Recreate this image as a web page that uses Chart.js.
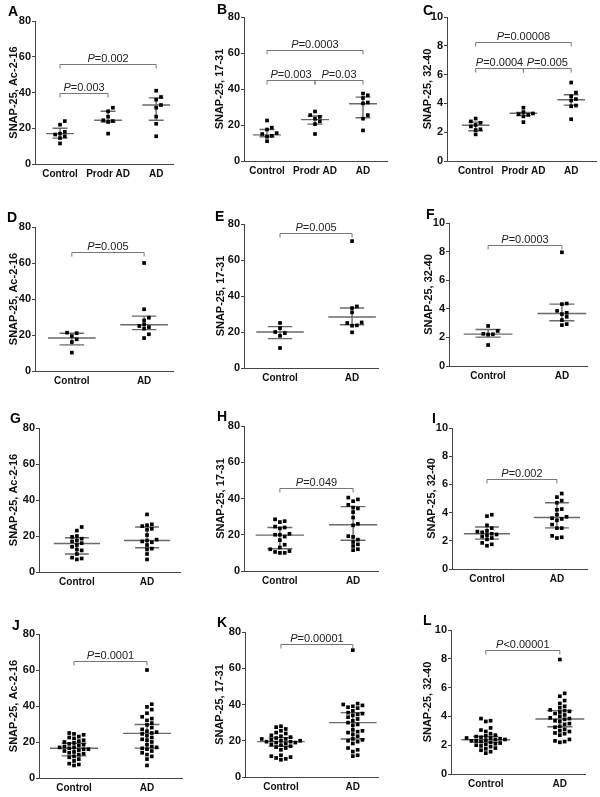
<!DOCTYPE html>
<html>
<head>
<meta charset="utf-8">
<script src="https://cdn.jsdelivr.net/npm/chart.js"></script>
<style>
  body { margin: 0; background: #fff; width: 600px; height: 797px; position: relative; overflow: hidden; }
  canvas { position: absolute; }
</style>
</head>
<body>
<script>
// ---- data ----
const groups3 = ["Control", "Prodr AD", "AD"];
const groups2 = ["Control", "AD"];
const ticksWide = [0, 20, 40, 60, 80];
const ticksNarrow = [0, 2, 4, 6, 8, 10];

// A: SNAP-25, Ac-2-16 (three groups)
const aControl = [24, 22, 18, 17, 16.5, 15.5, 14.5, 11.5];
const aProdr = [31.5, 29.5, 26.5, 24.5, 24, 23.5, 17];
const aAD = [41, 37.5, 36, 33, 31.5, 26.5, 22.5, 15.5];
const aMedian = [17, 24.5, 33];
const aUpper = [20, 29.5, 37];
const aLower = [14.5, 23.5, 24.5];
const aP = [[1, 2, 40, "=0.003"], [1, 3, 56, "=0.002"]];

// B: SNAP-25, 17-31
const bControl = [22.5, 18.5, 17.5, 15.5, 15, 14, 13.5, 11];
const bProdr = [27.5, 25.5, 24.5, 23.5, 22, 20.5, 15];
const bAD = [37.5, 36.5, 35, 32.5, 32, 25.5, 23.5, 17];
const bMedian = [14.5, 23, 31.8];
const bUpper = [17.5, 25, 35.5];
const bLower = [13.5, 20.5, 24];
const bP = [[1, 2, 45, "=0.003"], [2, 3, 45, "=0.03"], [1, 3, 61.5, "=0.0003"]];

// C: SNAP-25, 32-40
const cControl = [2.95, 2.75, 2.65, 2.5, 2.4, 2.2, 2.15, 1.85];
const cProdr = [3.7, 3.4, 3.3, 3.25, 3.2, 3.1, 2.7];
const cAD = [5.45, 4.75, 4.5, 4.3, 4.2, 3.85, 3.8, 2.9];
const cMedian = [2.48, 3.32, 4.25];
const cUpper = [2.7, 3.38, 4.6];
const cLower = [2.1, 3.15, 3.88];
const cP = [[1, 2, 6.43, "=0.0004"], [2, 3, 6.43, "=0.005"], [1, 3, 8.27, "=0.00008"]];

// D, E, F
const dControl = [21.3, 21, 19.4, 17.6, 16.1, 10.2];
const dAD = [60, 34.3, 29.6, 28.1, 25.9, 25, 24.4, 23.5, 20.4, 18.3];
const dMedian = [18.3, 25.7];
const dUpper = [21, 30.5];
const dLower = [14.5, 23];
const dP = [[1, 2, 66, "=0.005"]];

const eControl = [25, 22.2, 20, 19.4, 17.9, 11.1];
const eAD = [70.5, 34.2, 33.3, 30.9, 25.3, 25, 23.7, 23.5, 19.8];
const eMedian = [20, 28.3];
const eUpper = [23, 33.3];
const eLower = [16.3, 24];
const eP = [[1, 2, 75, "=0.005"]];

const fControl = [2.8, 2.45, 2.25, 2.22, 2.2, 1.47];
const fAD = [7.95, 4.37, 4.33, 3.86, 3.72, 3.63, 3.44, 3.21, 2.93, 2.86];
const fMedian = [2.23, 3.67];
const fUpper = [2.55, 4.33];
const fLower = [2.02, 3.16];
const fP = [[1, 2, 8.49, "=0.0003"]];

// G, H, I
const gControl = [25, 23, 20, 19.5, 18.5, 17.5, 17, 16, 15, 14, 12.5, 12, 10, 8, 7.5, 7];
const gAD = [32, 26.5, 26, 25.5, 24, 23.5, 20.5, 18, 17.5, 17, 16.5, 15, 13, 12.5, 10, 7];
const gMedian = [15.8, 17.5];
const gUpper = [19, 25];
const gLower = [10, 13.5];
const gP = [];

const hControl = [28.5, 27.5, 27, 24.5, 24, 23.5, 20.5, 20, 20, 19, 17, 14.5, 13, 12, 11, 10.5, 10, 10];
const hAD = [40.5, 39.5, 38.5, 36.5, 35, 34.5, 32.5, 29.5, 26, 25.2, 19.2, 18.8, 17.3, 16, 14.7, 13.8, 12, 11.5];
const hMedian = [19.8, 25.5];
const hUpper = [24, 35.5];
const hLower = [12.3, 17];
const hP = [[1, 2, 46, "=0.049"]];

const iControl = [3.85, 3.75, 3.1, 2.9, 2.7, 2.65, 2.6, 2.5, 2.45, 2.4, 2.3, 2.2, 2.1, 1.85, 1.75, 1.65];
const iAD = [5.35, 5.1, 4.85, 4.7, 4.25, 4.2, 3.85, 3.7, 3.6, 3.55, 3.45, 3.15, 2.9, 2.9, 2.35, 2.25, 2.2];
const iMedian = [2.5, 3.65];
const iUpper = [2.98, 4.7];
const iLower = [2.12, 2.92];
const iP = [[1, 2, 6.4, "=0.002"]];

// J, K, L (pooled)
const jControl = [25, 24.5, 24, 23, 22.5, 22, 21, 20.5, 20, 19.5, 19, 18.5, 18, 17.5, 17, 17, 16.5, 16, 16, 15.5, 15, 14.5, 14, 13.5, 13, 12, 11.5, 10.5, 9.5, 8, 7.5, 7];
const jAD = [60, 41, 39.5, 38, 36, 34, 33, 32, 30.5, 29.5, 28, 27, 26, 25.5, 25, 24.5, 23.5, 22.5, 21.5, 21, 20, 18.5, 17.5, 17, 16.5, 16, 15, 14, 13, 12, 10.5, 7];
const jMedian = [16.5, 24.8];
const jUpper = [19.3, 29.7];
const jLower = [12.3, 16.6];
const jP = [[1, 2, 65.2, "=0.0001"]];

const kControl = [28, 27.5, 26.5, 25.5, 24.5, 24, 23, 22.5, 22, 21.5, 21, 21, 20.5, 20, 20, 19.5, 19.5, 19, 19, 18.5, 18, 17.5, 17, 16.5, 16, 15, 12, 11.5, 11, 10.5, 10, 9.5];
const kAD = [70, 40.5, 40, 39.5, 39, 38.5, 38, 36.5, 35.5, 35, 34.5, 34, 33, 32, 31, 30, 29, 28.5, 26, 25.5, 25, 24.5, 23.5, 22.5, 21, 20.5, 20, 19.5, 18.5, 16, 15, 14, 12, 11.5];
const kMedian = [19.5, 30];
const kUpper = [21.7, 35.5];
const kLower = [17, 21];
const kP = [[1, 2, 73.5, "=0.00001"]];

const lControl = [3.85, 3.7, 3.65, 3.2, 3.05, 2.95, 2.8, 2.7, 2.65, 2.6, 2.55, 2.5, 2.5, 2.45, 2.4, 2.4, 2.35, 2.3, 2.3, 2.25, 2.2, 2.15, 2.1, 2.05, 2, 1.95, 1.9, 1.8, 1.75, 1.65, 1.55, 1.45];
const lAD = [7.95, 5.6, 5.4, 5.1, 4.9, 4.7, 4.6, 4.45, 4.4, 4.35, 4.3, 4.2, 4.1, 4, 3.9, 3.85, 3.8, 3.7, 3.65, 3.5, 3.45, 3.3, 3.25, 3.1, 3, 2.95, 2.85, 2.8, 2.7, 2.4, 2.3, 2.25, 2.2];
const lMedian = [2.38, 3.82];
const lUpper = [2.6, 4.4];
const lLower = [2.2, 3.28];
const lP = [[1, 2, 8.6, "<0.00001"]];

const titleAc = "SNAP-25, Ac-2-16";
const title17 = "SNAP-25, 17-31";
const title32 = "SNAP-25, 32-40";

// ---- layout (absolute px in the 600x797 page) ----
// letter, cell left/top, axis left/right, plot top/bottom, x range, title centre x
const panels = [
  { tag: "A", cx: 0,   cy: 0,   l: 35,  r: 173, t: 21,  b: 164, xmin: 0.48, xmax: 3.35, lx: 8,   ly: 16,  tx: 14,  groups: groups3, sets: [aControl, aProdr, aAD], med: aMedian, hi: aUpper, lo: aLower, p: aP, title: titleAc, ticks: ticksWide },
  { tag: "B", cx: 200, cy: 0,   l: 244, r: 387, t: 17,  b: 161, xmin: 0.52, xmax: 3.5,  lx: 217, ly: 14,  tx: 220, groups: groups3, sets: [bControl, bProdr, bAD], med: bMedian, hi: bUpper, lo: bLower, p: bP, title: title17, ticks: ticksWide },
  { tag: "C", cx: 400, cy: 0,   l: 447, r: 597, t: 17,  b: 161, xmin: 0.4,  xmax: 3.52, lx: 423, ly: 15,  tx: 428, groups: groups3, sets: [cControl, cProdr, cAD], med: cMedian, hi: cUpper, lo: cLower, p: cP, title: title32, ticks: ticksNarrow },
  { tag: "D", cx: 0,   cy: 200, l: 35,  r: 173, t: 227, b: 371, xmin: 0.49, xmax: 2.4,  lx: 7,   ly: 222, tx: 14,  groups: groups2, sets: [dControl, dAD], med: dMedian, hi: dUpper, lo: dLower, p: dP, title: titleAc, ticks: ticksWide },
  { tag: "E", cx: 200, cy: 200, l: 244, r: 378, t: 224, b: 368, xmin: 0.5,  xmax: 2.36, lx: 215, ly: 221, tx: 221, groups: groups2, sets: [eControl, eAD], med: eMedian, hi: eUpper, lo: eLower, p: eP, title: title17, ticks: ticksWide },
  { tag: "F", cx: 400, cy: 200, l: 449, r: 587, t: 223, b: 366, xmin: 0.47, xmax: 2.34, lx: 426, ly: 219, tx: 429, groups: groups2, sets: [fControl, fAD], med: fMedian, hi: fUpper, lo: fLower, p: fP, title: title32, ticks: ticksNarrow },
  { tag: "G", cx: 0,   cy: 400, l: 39,  r: 180, t: 428, b: 572, xmin: 0.46, xmax: 2.47, lx: 10,  ly: 423, tx: 14,  groups: groups2, sets: [gControl, gAD], med: gMedian, hi: gUpper, lo: gLower, p: gP, title: titleAc, ticks: ticksWide },
  { tag: "H", cx: 200, cy: 400, l: 244, r: 378, t: 426, b: 571, xmin: 0.51, xmax: 2.34, lx: 217, ly: 421, tx: 221, groups: groups2, sets: [hControl, hAD], med: hMedian, hi: hUpper, lo: hLower, p: hP, title: title17, ticks: ticksWide },
  { tag: "I", cx: 400, cy: 400, l: 452, r: 587, t: 428, b: 569, xmin: 0.5,  xmax: 2.43, lx: 432, ly: 423, tx: 432, groups: groups2, sets: [iControl, iAD], med: iMedian, hi: iUpper, lo: iLower, p: iP, title: title32, ticks: ticksNarrow },
  { tag: "J", cx: 0,   cy: 597, l: 39,  r: 182, t: 634, b: 778, xmin: 0.52, xmax: 2.48, lx: 12,  ly: 630, tx: 14,  groups: groups2, sets: [jControl, jAD], med: jMedian, hi: jUpper, lo: jLower, p: jP, title: titleAc, ticks: ticksWide },
  { tag: "K", cx: 200, cy: 597, l: 245, r: 378, t: 632, b: 777, xmin: 0.5,  xmax: 2.35, lx: 217, ly: 627, tx: 220, groups: groups2, sets: [kControl, kAD], med: kMedian, hi: kUpper, lo: kLower, p: kP, title: title17, ticks: ticksWide },
  { tag: "L", cx: 400, cy: 597, l: 451, r: 585, t: 630, b: 774, xmin: 0.53, xmax: 2.34, lx: 423, ly: 625, tx: 428, groups: groups2, sets: [lControl, lAD], med: lMedian, hi: lUpper, lo: lLower, p: lP, title: title32, ticks: ticksNarrow },
];

const CELL = 200;
Chart.defaults.font.family = "'Liberation Sans', Arial, sans-serif";
Chart.defaults.color = "#111";

// spread points that share a level sideways (deterministic beeswarm)
function swarm(values, cat, pxPerUnit, pxPerCat) {
  const stepX = 4.8, gapY = 3.8;
  const placed = [];
  const order = values.map((v, i) => i).sort((a, b) => values[a] - values[b]);
  const pts = [];
  for (const i of order) {
    const py = values[i] * pxPerUnit;
    let off = 0;
    for (let s = 0; s < 40; s++) {
      off = s === 0 ? 0 : (s % 2 ? 1 : -1) * Math.ceil(s / 2) * stepX;
      if (!placed.some(q => Math.abs(q.x - off) < stepX - 0.1 && Math.abs(q.y - py) < gapY)) break;
    }
    placed.push({ x: off, y: py });
    pts.push({ x: cat + off / pxPerCat, y: values[i] });
  }
  return pts;
}

// median + interquartile bars, significance brackets, panel letter
const overlay = {
  id: "overlay",
  beforeDatasetsDraw(chart, args, o) {
    const { ctx, scales: { x, y } } = chart;
    ctx.save();
    ctx.strokeStyle = "#6a6a6a";
    ctx.lineWidth = 1.4;
    o.med.forEach((m, i) => {
      const c = i + 1;
      const px = x.getPixelForValue(c);
      const hw = x.getPixelForValue(c + o.medW) - px;
      const cw = x.getPixelForValue(c + o.capW) - px;
      const ym = y.getPixelForValue(m), yh = y.getPixelForValue(o.hi[i]), yl = y.getPixelForValue(o.lo[i]);
      ctx.beginPath();
      ctx.moveTo(px - hw, ym); ctx.lineTo(px + hw, ym);
      ctx.moveTo(px - cw, yh); ctx.lineTo(px + cw, yh);
      ctx.moveTo(px - cw, yl); ctx.lineTo(px + cw, yl);
      ctx.moveTo(px, yh); ctx.lineTo(px, yl);
      ctx.stroke();
    });
    ctx.restore();
  },
  afterDraw(chart, args, o) {
    const { ctx, scales: { x, y } } = chart;
    ctx.save();
    o.p.forEach(([from, to, val, txt]) => {
      const x1 = x.getPixelForValue(from), x2 = x.getPixelForValue(to);
      const yy = Math.round(y.getPixelForValue(val)) + 0.5;
      ctx.strokeStyle = "#777";
      ctx.lineWidth = 1;
      ctx.beginPath();
      ctx.moveTo(x1, yy + 4); ctx.lineTo(x1, yy); ctx.lineTo(x2, yy); ctx.lineTo(x2, yy + 4);
      ctx.stroke();
      ctx.fillStyle = "#222";
      ctx.textBaseline = "alphabetic";
      ctx.font = "italic 11px 'Liberation Sans', Arial, sans-serif";
      const wP = ctx.measureText("P").width;
      ctx.font = "11px 'Liberation Sans', Arial, sans-serif";
      const wR = ctx.measureText(txt).width;
      const sx = (x1 + x2) / 2 - (wP + wR) / 2;
      ctx.fillText(txt, sx + wP, yy - 3);
      ctx.font = "italic 11px 'Liberation Sans', Arial, sans-serif";
      ctx.fillText("P", sx, yy - 3);
    });
    ctx.fillStyle = "#000";
    ctx.font = "bold 14px 'Liberation Sans', Arial, sans-serif";
    ctx.fillText(o.tag, o.lx, o.ly);
    ctx.restore();
  }
};

panels.forEach(pn => {
  const canvas = document.createElement("canvas");
  canvas.width = CELL;
  canvas.height = CELL;
  canvas.style.left = pn.cx + "px";
  canvas.style.top = pn.cy + "px";
  document.body.appendChild(canvas);

  const ymax = pn.ticks[pn.ticks.length - 1];
  const pxPerUnit = (pn.b - pn.t) / ymax;
  const pxPerCat = (pn.r - pn.l) / (pn.xmax - pn.xmin);
  const cats = pn.groups.map((g, i) => i + 1);
  const three = pn.groups.length === 3;

  new Chart(canvas, {
    type: "scatter",
    data: {
      datasets: pn.sets.map((vals, i) => ({
        label: pn.groups[i],
        data: swarm(vals, i + 1, pxPerUnit, pxPerCat),
        pointStyle: "rect",
        pointRadius: 2.6,
        backgroundColor: "#000",
        borderColor: "#000",
        borderWidth: 0
      }))
    },
    options: {
      responsive: false,
      animation: false,
      events: [],
      layout: { padding: { left: 0, top: pn.t - pn.cy, right: pn.cx + CELL - pn.r, bottom: 0 } },
      plugins: {
        legend: { display: false },
        tooltip: { enabled: false },
        overlay: {
          med: pn.med, hi: pn.hi, lo: pn.lo, p: pn.p,
          medW: three ? 0.29 : 0.33, capW: three ? 0.155 : 0.17,
          tag: pn.tag, lx: pn.lx - pn.cx, ly: pn.ly - pn.cy
        }
      },
      scales: {
        x: {
          type: "linear",
          min: pn.xmin,
          max: pn.xmax,
          grid: { display: false, drawTicks: false, tickLength: 0 },
          border: { display: true, color: "#444", width: 1 },
          afterBuildTicks: ax => { ax.ticks = cats.map(v => ({ value: v })); },
          afterFit: ax => { ax.height = pn.cy + CELL - pn.b; },
          ticks: {
            autoSkip: false, maxRotation: 0, padding: 4,
            font: { size: 10, weight: "bold" },
            callback: v => pn.groups[v - 1]
          }
        },
        y: {
          min: 0,
          max: ymax,
          afterBuildTicks: ax => { ax.ticks = pn.ticks.map(v => ({ value: v })); },
          afterFit: ax => { ax.width = pn.l - pn.cx; },
          grid: { display: true, drawOnChartArea: false, drawTicks: true, tickLength: 3, color: "#444" },
          border: { display: true, color: "#444", width: 1 },
          ticks: { padding: 1, font: { size: 11, weight: "bold" } },
          title: {
            display: true,
            text: pn.title,
            font: { size: 11, weight: "bold" },
            padding: { top: pn.tx - pn.cx - 6.6, bottom: 0 }
          }
        }
      }
    },
    plugins: [overlay]
  });
});
</script>
</body>
</html>
